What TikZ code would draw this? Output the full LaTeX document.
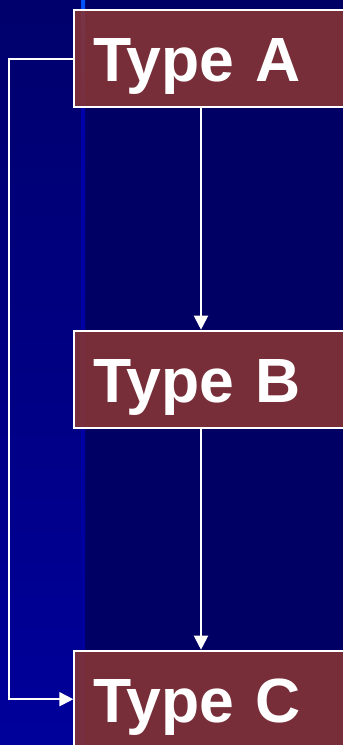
\documentclass[tikz,border=0pt]{standalone}
\usepackage{fontspec}
\setmainfont{Liberation Sans}
\usetikzlibrary{arrows.meta}
\definecolor{bgnavy}{RGB}{0,0,100}
\definecolor{stripTop}{RGB}{0,0,108}
\definecolor{stripBot}{RGB}{0,0,155}
\definecolor{lineTop}{RGB}{0,85,255}
\definecolor{lineMid}{RGB}{0,0,170}
\definecolor{boxfill}{RGB}{133,52,53}
\tikzset{
  typebox/.style={draw=white, line width=2pt, fill=boxfill, fill opacity=0.9, text opacity=1,
    text=white, anchor=north west, inner xsep=19pt, inner ysep=0pt,
    text width=262pt, align=left, text height=71.5pt, text depth=25.5pt,
    font=\fontsize{62.5}{62.5}\selectfont\bfseries},
  conn/.style={draw=white, line width=2pt, -{Triangle[width=14pt,length=14pt]}}
}
\begin{document}
\begin{tikzpicture}[x=1pt,y=-1pt]
\useasboundingbox (0,0) rectangle (343,745);
\clip (0,0) rectangle (343,745);
\fill[bgnavy] (0,0) rectangle (343,745);
\shade[top color=stripTop, bottom color=stripBot] (0,0) rectangle (84,745);
\shade[top color=lineTop, bottom color=lineMid] (81,0) rectangle (85,110);
\shade[top color=lineMid, bottom color=stripBot] (81,110) rectangle (85,745);
\node[typebox] (A) at (73.3,9.3) {Type A};
\node[typebox] (B) at (73.3,329.7) {Type B};
\node[typebox] (C) at (73.3,649.7) {Type C};
\coordinate (colx) at (201,0);
\coordinate (leftx) at (9,0);
\draw[conn] (A.south -| colx) -- (B.north -| colx);
\draw[conn] (B.south -| colx) -- (C.north -| colx);
\draw[conn] (A.west) -- (A.west -| leftx) -- (C.west -| leftx) -- (C.west);
\end{tikzpicture}
\end{document}
